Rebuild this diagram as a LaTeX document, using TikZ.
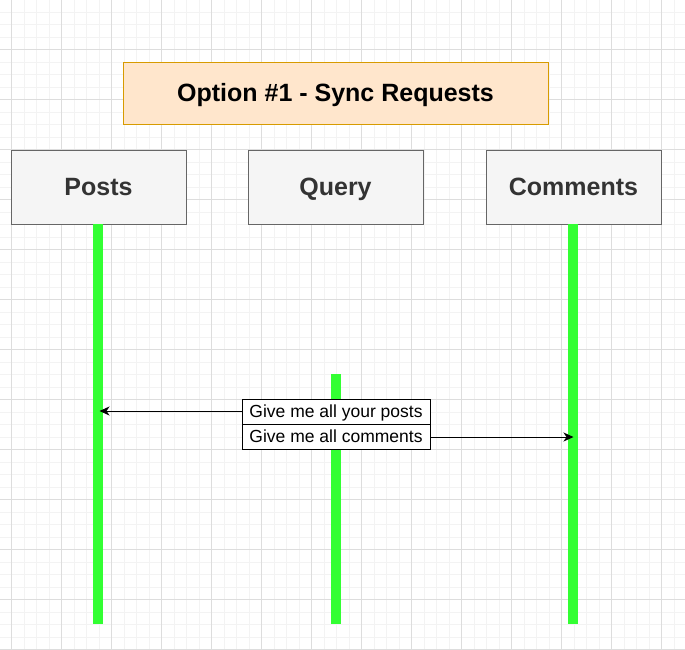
\documentclass[tikz,border=0pt]{standalone}
\usepackage{fontspec}
\setmainfont{Liberation Sans}
\usetikzlibrary{arrows.meta}

\definecolor{gridminor}{HTML}{F3F3F3}
\definecolor{gridmajor}{HTML}{DDDDDD}
\definecolor{titlefill}{HTML}{FFE6CC}
\definecolor{titleline}{HTML}{D79B00}
\definecolor{svcfill}{HTML}{F5F5F5}
\definecolor{svcline}{HTML}{666666}
\definecolor{svctext}{HTML}{333333}
\definecolor{lifegreen}{HTML}{33FF33}

\tikzset{
  bigtext/.style={font=\fontsize{25}{30}\selectfont\bfseries,
    text height=17.9pt, text depth=0pt},
  smalltext/.style={font=\fontsize{17.5}{20}\selectfont,
    text height=12.5pt, text depth=0pt},
  titlebox/.style={draw=titleline, fill=titlefill, line width=1pt,
    minimum width=425pt, minimum height=62pt, inner sep=0pt, outer sep=0pt,
    text=black, bigtext},
  svcbox/.style={draw=svcline, fill=svcfill, line width=1pt,
    minimum width=175pt, minimum height=74pt, inner sep=0pt, outer sep=0pt,
    text=svctext, bigtext},
  lifeline/.style={draw=lifegreen, line width=10pt},
  msgbox/.style={draw=black, fill=white, line width=1pt,
    minimum width=188pt, minimum height=25pt, inner sep=0pt, outer sep=0pt,
    smalltext},
  msg/.style={draw=black, line width=1pt,
    -{Stealth[length=10pt,width=9pt,inset=3pt]}},
}

\begin{document}
\begin{tikzpicture}[x=1pt, y=-1pt]
  % canvas
  \fill[white] (0,0) rectangle (685,649);
  \useasboundingbox (0,0) rectangle (685,649);

  % background grid: fine lines every 12.5, stronger lines every 50
  \begin{scope}
    \clip (0,0) rectangle (685,649);
    \foreach \i in {-1,...,55} {
      \draw[gridminor, line width=0.8pt] ({11.5+12.5*\i},0) -- ({11.5+12.5*\i},649);
      \draw[gridminor, line width=0.8pt] (0,{-0.5+12.5*\i}) -- (685,{-0.5+12.5*\i});
    }
    \foreach \i in {-1,...,14} {
      \draw[gridmajor, line width=0.8pt] ({11.5+50*\i},0) -- ({11.5+50*\i},649);
      \draw[gridmajor, line width=0.8pt] (0,{-0.5+50*\i}) -- (685,{-0.5+50*\i});
    }
  \end{scope}

  % title
  \node[titlebox] (title) at (335.5,93) {Option \#1 - Sync Requests};

  % services
  \node[svcbox] (posts) at (98.5,187) {Posts};
  \node[svcbox] (query) at (335.5,187) {Query};
  \node[svcbox] (comments) at (573.5,187) {Comments};

  % lifeline ends
  \coordinate (postsEnd) at (97.5,623.5);
  \coordinate (queryTop) at (336,374);
  \coordinate (queryEnd) at (336,623.5);
  \coordinate (commentsEnd) at (572.5,623.5);

  % lifelines
  \draw[lifeline] (postsEnd |- posts.south) -- (postsEnd);
  \draw[lifeline] (queryTop) -- (queryEnd);
  \draw[lifeline] (commentsEnd |- comments.south) -- (commentsEnd);

  % requests
  \node[msgbox] (askPosts) at (336,411.5) {Give me all your posts};
  \node[msgbox, anchor=north] (askComments) at (askPosts.south) {Give me all comments};

  \coordinate (postsHit) at (99.5,411);
  \coordinate (commentsHit) at (573.5,437);
  \draw[msg] (askPosts.west |- postsHit) -- (postsHit);
  \draw[msg] (askComments.east |- commentsHit) -- (commentsHit);
\end{tikzpicture}
\end{document}
